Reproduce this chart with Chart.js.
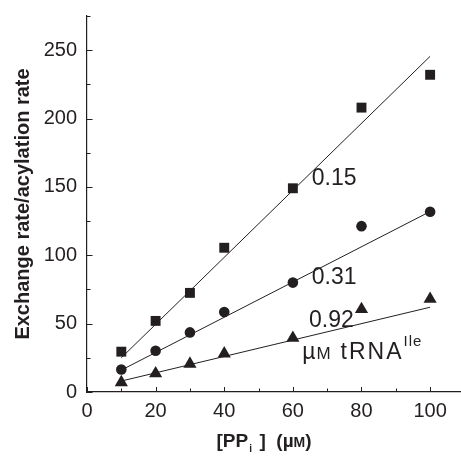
<!DOCTYPE html>
<html>
<head>
<meta charset="utf-8">
<script src="https://cdn.jsdelivr.net/npm/chart.js@4"></script>
<style>
  html, body { margin: 0; padding: 0; background: #ffffff; }
  #wrap { width: 461px; height: 456px; position: relative; }
</style>
</head>
<body>
<div id="wrap"><canvas id="c" width="461" height="456"></canvas></div>
<script>
// [PPi] concentrations (µM)
const ppiConc = [10, 20, 30, 40, 60, 80, 100];

// Exchange rate / acylation rate at three tRNA(Ile) concentrations
const rate015 = [29.5, 52, 72.5, 105.5, 149, 208, 232];
const rate031 = [16.5, 30.2, 43.6, 58.5, 80, 121.3, 131.8];
const rate092 = [7, 13.5, 20.5, 28, 39.5, 60.5, 68];

// Linear fits, given by their values at the ends of the range
const fitX = [10, 100];
const fit015 = [25, 245.5];
const fit031 = [16, 132];
const fit092 = [8, 62];

// Axis ticks
const xTicks = [0, 20, 40, 60, 80, 100];
const yTicks = [0, 50, 100, 150, 200, 250];
const xMinorTicks = [10, 30, 50, 70, 90];
const yMinorTicks = [25, 75, 125, 175, 225, 275];

// Concentration labels next to the lines
const seriesLabels = ['0.15', '0.31', '0.92'];

const INK = '#231f20';
const FONT = '"Liberation Sans", Arial, Helvetica, sans-serif';

const pts = (xs, ys) => xs.map((x, i) => ({ x: x, y: ys[i] }));

const markerSet = (data, style, radius) => ({
  data: data,
  showLine: false,
  pointStyle: style,
  pointRadius: radius,
  pointHoverRadius: radius,
  pointBackgroundColor: INK,
  pointBorderColor: INK,
  pointBorderWidth: 0
});

const fitSet = (data) => ({
  data: data,
  showLine: true,
  borderColor: INK,
  borderWidth: 1,
  pointRadius: 0,
  fill: false
});

// Inward tick marks on both axes, major and minor
const tickMarks = {
  id: 'tickMarks',
  afterDraw(chart) {
    const { ctx, chartArea, scales } = chart;
    ctx.save();
    ctx.strokeStyle = INK;
    ctx.lineWidth = 1;
    ctx.beginPath();
    const xMark = (v, len) => {
      const px = Math.round(scales.x.getPixelForValue(v)) + 0.5;
      if (px > chartArea.right + 1) return;
      ctx.moveTo(px, chartArea.bottom);
      ctx.lineTo(px, chartArea.bottom - len);
    };
    const yMark = (v, len) => {
      const py = Math.round(scales.y.getPixelForValue(v)) + 0.5;
      ctx.moveTo(chartArea.left, py);
      ctx.lineTo(chartArea.left + len, py);
    };
    xTicks.forEach(v => xMark(v, 5));
    xMinorTicks.forEach(v => xMark(v, 3.5));
    yTicks.forEach(v => yMark(v, 5.5));
    yMinorTicks.forEach(v => yMark(v, 3.5));
    ctx.stroke();
    ctx.restore();
  }
};

// Text labels inside the plot and the composed x-axis title
const plotText = {
  id: 'plotText',
  afterDraw(chart) {
    const { ctx, scales, chartArea } = chart;
    const X = v => scales.x.getPixelForValue(v);
    const Y = v => scales.y.getPixelForValue(v);
    ctx.save();
    ctx.fillStyle = INK;
    ctx.textBaseline = 'alphabetic';
    ctx.textAlign = 'left';

    ctx.font = '23px ' + FONT;
    ctx.fillText(seriesLabels[0], X(65.5), Y(151.3));
    ctx.fillText(seriesLabels[1], X(65.5), Y(79));
    ctx.fillText(seriesLabels[2], X(64.7), Y(47.3));

    // µM tRNA^Ile
    let x = X(62.7);
    const base = Y(24);
    ctx.font = '23px ' + FONT;
    ctx.fillText('\u00b5', x, base);
    x += ctx.measureText('\u00b5').width + 1;
    ctx.font = '17px ' + FONT;
    ctx.fillText('M', x, base);
    x += ctx.measureText('M').width + 10;
    ctx.font = '23px ' + FONT;
    ctx.letterSpacing = '2px';
    ctx.fillText('tRNA', x, base);
    x += ctx.measureText('tRNA').width;
    ctx.font = '15px ' + FONT;
    ctx.letterSpacing = '1px';
    ctx.fillText('Ile', x, base - 13);
    ctx.letterSpacing = '0px';

    // [PPi ]  (µM)
    const tb = chartArea.bottom + 54.5;
    let tx = 216.5;
    ctx.font = 'bold 19px ' + FONT;
    ctx.fillText('[PP', tx, tb);
    tx += ctx.measureText('[PP').width;
    ctx.font = 'bold 10px ' + FONT;
    ctx.fillText('i', tx + 1, tb + 5);
    tx += 6;
    ctx.font = 'bold 19px ' + FONT;
    ctx.fillText(' ]  (\u00b5', tx, tb);
    tx += ctx.measureText(' ]  (\u00b5').width;
    ctx.font = 'bold 14px ' + FONT;
    ctx.fillText('M', tx, tb);
    tx += ctx.measureText('M').width;
    ctx.font = 'bold 19px ' + FONT;
    ctx.fillText(')', tx, tb);
    ctx.restore();
  }
};

new Chart(document.getElementById('c'), {
  type: 'scatter',
  data: {
    datasets: [
      fitSet(pts(fitX, fit015)),
      fitSet(pts(fitX, fit031)),
      fitSet(pts(fitX, fit092)),
      markerSet(pts(ppiConc, rate015), 'rect', 7),
      markerSet(pts(ppiConc, rate031), 'circle', 5.3),
      markerSet(pts(ppiConc, rate092), 'triangle', 7.6)
    ]
  },
  options: {
    responsive: false,
    animation: false,
    events: [],
    layout: { autoPadding: false, padding: { top: 16, right: 0, left: 0, bottom: 0 } },
    plugins: {
      legend: { display: false },
      tooltip: { enabled: false }
    },
    scales: {
      x: {
        type: 'linear',
        min: 0,
        max: 109,
        afterBuildTicks: s => { s.ticks = xTicks.map(v => ({ value: v })); },
        afterFit: s => { s.height = 64; s.paddingLeft = 0; s.paddingRight = 0; },
        grid: { display: false, drawTicks: false },
        border: { display: true, color: INK, width: 1.2 },
        ticks: { color: INK, padding: 7, font: { family: FONT, size: 20 }, maxRotation: 0 }
      },
      y: {
        type: 'linear',
        min: 0,
        max: 275,
        afterBuildTicks: s => { s.ticks = yTicks.map(v => ({ value: v })); },
        afterFit: s => { s.width = 87; s.paddingTop = 0; s.paddingBottom = 0; },
        grid: { display: false, drawTicks: false },
        border: { display: true, color: INK, width: 1.2 },
        ticks: { color: INK, padding: 10, font: { family: FONT, size: 20 } },
        title: {
          display: true,
          text: 'Exchange rate/acylation rate',
          color: INK,
          font: { family: FONT, size: 20, weight: 'bold' },
          padding: { top: 11, bottom: 0 }
        }
      }
    }
  },
  plugins: [tickMarks, plotText]
});
</script>
</body>
</html>
